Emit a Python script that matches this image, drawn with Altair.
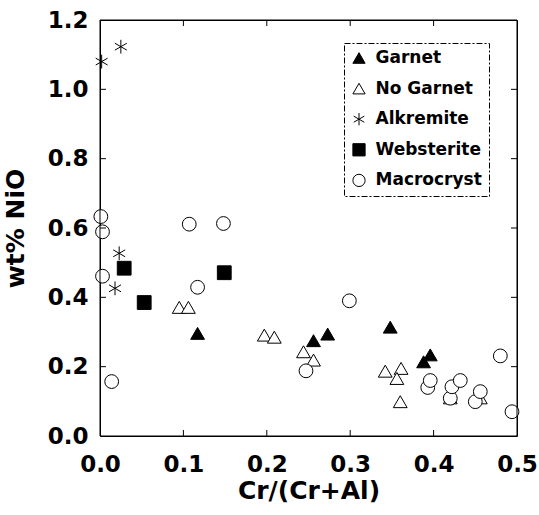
import altair as alt
import pandas as pd

garnet_x = [0.117, 0.256, 0.273, 0.348, 0.388, 0.396]
garnet_y = [0.296, 0.275, 0.294, 0.314, 0.214, 0.234]

nogarnet_x = [0.095, 0.106, 0.197, 0.209, 0.244, 0.256, 0.342, 0.361, 0.356, 0.360, 0.420, 0.456]
nogarnet_y = [0.371, 0.371, 0.291, 0.285, 0.243, 0.219, 0.187, 0.195, 0.166, 0.099, 0.110, 0.110]

alk_x = [0.002, 0.025, 0.023, 0.018]
alk_y = [1.080, 1.123, 0.527, 0.426]

web_x = [0.029, 0.053, 0.149]
web_y = [0.484, 0.385, 0.471]

macro_x = [0.001, 0.003, 0.003, 0.014, 0.107, 0.117, 0.148, 0.247, 0.299, 0.393,
           0.396, 0.420, 0.422, 0.432, 0.450, 0.456, 0.480, 0.494]
macro_y = [0.633, 0.589, 0.461, 0.157, 0.611, 0.429, 0.613, 0.188, 0.390, 0.140,
           0.160, 0.109, 0.142, 0.160, 0.099, 0.128, 0.231, 0.070]

groups = ["Garnet", "No Garnet", "Alkremite", "Websterite", "Macrocryst"]
series = [(garnet_x, garnet_y), (nogarnet_x, nogarnet_y), (alk_x, alk_y),
          (web_x, web_y), (macro_x, macro_y)]

x_domain = [0.0, 0.5]
y_domain = [0.0, 1.2]
x_ticks = [0.0, 0.1, 0.2, 0.3, 0.4, 0.5]
y_ticks = [0.0, 0.2, 0.4, 0.6, 0.8, 1.0, 1.2]

rows = []
for g, (xs, ys) in zip(groups, series):
    for a, b in zip(xs, ys):
        rows.append({"cr": a, "nio": b, "type": g})
df = pd.DataFrame(rows)
frame = pd.DataFrame({"x0": [x_domain[0]], "x1": [x_domain[1]],
                      "y0": [y_domain[0]], "y1": [y_domain[1]]})
xt = pd.DataFrame({"v": x_ticks[1:-1]})
yt = pd.DataFrame({"v": y_ticks[1:-1]})

asterisk = "M0,-1L0,1M-0.866,-0.5L0.866,0.5M-0.866,0.5L0.866,-0.5"
FONT = "DejaVu Sans"
X_TITLE = "Cr/(Cr+Al)"
Y_TITLE = "wt% NiO"

xscale = alt.Scale(domain=x_domain, nice=False, zero=False)
yscale = alt.Scale(domain=y_domain, nice=False, zero=False)

common_axis = dict(grid=False, domain=False, ticks=False,
                   labelFont=FONT, labelFontWeight="bold", labelFontSize=23,
                   labelColor="black", titleFont=FONT, titleFontWeight="bold",
                   titleFontSize=25, titleColor="black", labelFlush=False)

x_axis = alt.Axis(values=x_ticks, format=".1f", labelPadding=17, titlePadding=2, **common_axis)
y_axis = alt.Axis(values=y_ticks, format=".1f", labelPadding=12, titlePadding=19, **common_axis)

points = alt.Chart(df).mark_point(opacity=1, strokeWidth=1, stroke="black", size=190).encode(
    x=alt.X("cr:Q", scale=xscale, title=X_TITLE, axis=x_axis),
    y=alt.Y("nio:Q", scale=yscale, title=Y_TITLE, axis=y_axis),
    shape=alt.Shape("type:N", scale=alt.Scale(
        domain=groups,
        range=["triangle-up", "triangle-up", asterisk, "square", "circle"]),
        legend=alt.Legend(title=None)),
    fill=alt.Fill("type:N", scale=alt.Scale(
        domain=groups,
        range=["black", "white", "white", "black", "white"]),
        legend=alt.Legend(title=None)),
    stroke=alt.Stroke("type:N", scale=alt.Scale(
        domain=groups,
        range=["black", "black", "black", "black", "black"]),
        legend=alt.Legend(title=None)),
)

border = alt.Chart(frame).mark_rect(fill="white", fillOpacity=0, stroke="black",
                                     strokeWidth=1).encode(
    x=alt.X("x0:Q", scale=xscale, title=X_TITLE, axis=x_axis), x2="x1:Q",
    y=alt.Y("y0:Q", scale=yscale, title=Y_TITLE, axis=y_axis), y2="y1:Q",
)

tick_bottom = alt.Chart(xt).mark_rule(color="black", strokeWidth=1).encode(
    x=alt.X("v:Q", scale=xscale, title=X_TITLE, axis=x_axis),
    y=alt.value(410), y2=alt.value(416))
tick_top = alt.Chart(xt).mark_rule(color="black", strokeWidth=1).encode(
    x=alt.X("v:Q", scale=xscale, title=X_TITLE, axis=x_axis),
    y=alt.value(0), y2=alt.value(6))
tick_left = alt.Chart(yt).mark_rule(color="black", strokeWidth=1).encode(
    y=alt.Y("v:Q", scale=yscale, title=Y_TITLE, axis=y_axis),
    x=alt.value(0), x2=alt.value(6))
tick_right = alt.Chart(yt).mark_rule(color="black", strokeWidth=1).encode(
    y=alt.Y("v:Q", scale=yscale, title=Y_TITLE, axis=y_axis),
    x=alt.value(411), x2=alt.value(417))

chart = alt.layer(points, border, tick_bottom, tick_top, tick_left, tick_right).properties(
    width=417, height=416,
    autosize=alt.AutoSizeParams(type="none"),
    padding={"left": 100, "top": 20, "right": 22, "bottom": 79},
    view=alt.ViewBackground(stroke="black", strokeWidth=1),
).configure_legend(
    orient="none", legendX=244, legendY=23,
    strokeColor="black", strokeDash=[6, 2, 2, 2], padding=6.5,
    labelFont=FONT, labelFontWeight="bold", labelFontSize=17, labelColor="black",
    symbolSize=150, symbolStrokeWidth=1,
    rowPadding=12.6, labelOffset=8,
)

chart.save("out.html", embed_options={"renderer": "svg", "actions": False})
